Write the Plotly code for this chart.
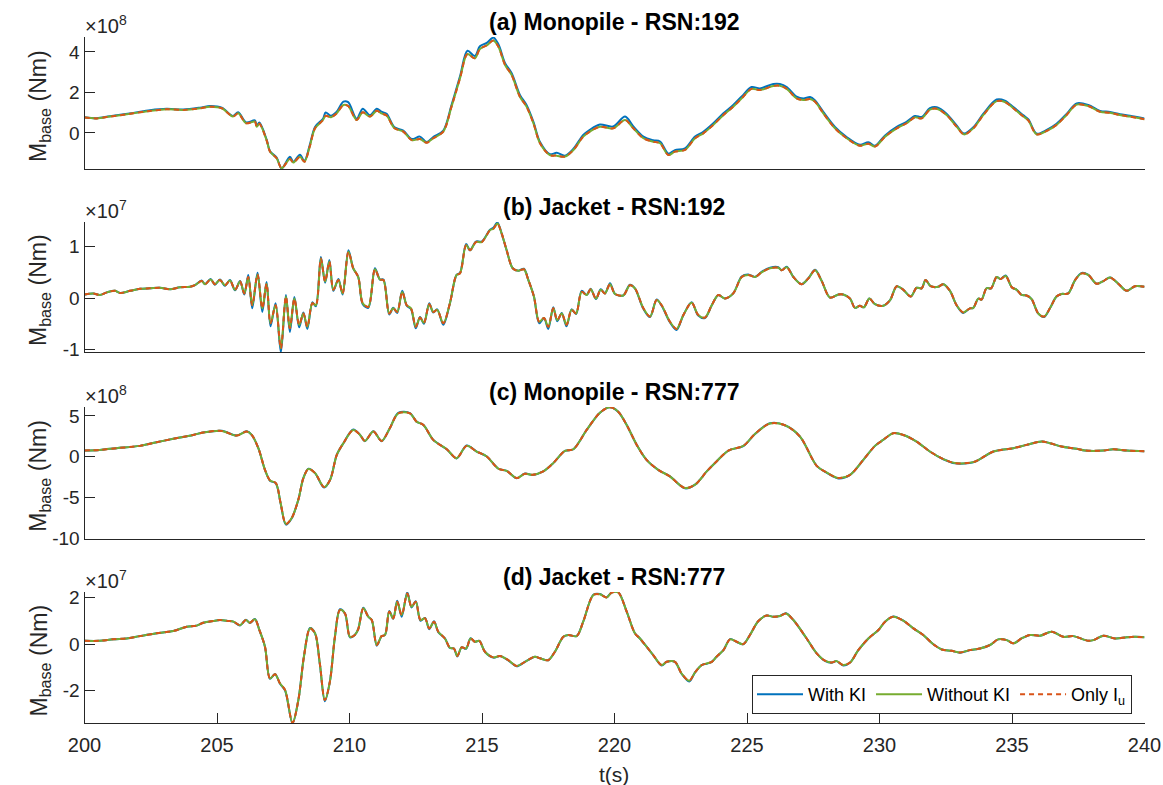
import plotly.graph_objects as go

# ---------------------------------------------------------------------------
# Base overturning moment time histories, 200-240 s.
# Values are in units of the exponent shown above each panel.
# ---------------------------------------------------------------------------

# (a) Monopile - RSN:192   [x 1e8 Nm]
t_mono192 = [200.0, 200.46, 200.96, 201.84, 202.47, 203.1, 203.73, 204.36, 204.74, 205.18,
             205.6, 205.8, 206.1, 206.43, 206.5, 206.6, 206.87, 207.0, 207.25, 207.44,
             207.75, 207.88, 208.13, 208.3, 208.5, 208.7, 209.0, 209.1, 209.3, 209.5,
             209.77, 209.95, 210.27, 210.5, 210.77, 211.03, 211.2, 211.4, 211.7, 212.03,
             212.35, 212.66, 212.91, 213.16, 213.54, 213.85, 214.17, 214.45, 214.73, 214.92,
             215.18, 215.43, 215.62, 215.87, 216.12, 216.43, 216.68, 216.94, 217.19, 217.56,
             217.82, 218.13, 218.45, 218.82, 219.07, 219.45, 219.95, 220.4, 220.71, 221.09,
             221.46, 221.72, 222.03, 222.28, 222.66, 223.04, 223.35, 223.73, 224.11, 224.48,
             224.8, 225.17, 225.49, 225.99, 226.24, 226.5, 226.87, 227.13, 227.38, 227.56,
             227.88, 228.32, 228.76, 229.26, 229.58, 229.83, 230.21, 230.65, 231.02, 231.34,
             231.59, 231.9, 232.16, 232.53, 232.91, 233.19, 233.54, 233.92, 234.42, 234.73,
             235.05, 235.43, 235.62, 235.93, 236.31, 236.68, 237.06, 237.44, 237.88, 238.32,
             238.7, 239.07, 239.45, 240.0]
mono192_with_ki = [0.78, 0.73, 0.83, 0.99, 1.12, 1.19, 1.16, 1.25, 1.33, 1.25,
                   0.84, 1.02, 0.52, 0.62, 0.36, 0.52, -0.32, -0.90, -1.22, -1.76,
                   -1.18, -1.42, -1.08, -1.38, -0.60, 0.30, 0.70, 1.01, 0.85, 1.02,
                   1.55, 1.52, 0.70, 1.20, 0.88, 1.20, 1.05, 0.95, 0.28, 0.12,
                   -0.30, -0.18, -0.45, -0.20, 0.12, 1.38, 2.80, 4.06, 3.80, 4.28,
                   4.45, 4.71, 4.38, 3.45, 2.95, 1.88, 1.38, 0.55, -0.45, -1.05,
                   -0.98, -1.12, -0.78, -0.10, 0.16, 0.42, 0.32, 0.81, 0.32, -0.18,
                   -0.36, -0.42, -1.02, -0.85, -0.76, -0.18, 0.06, 0.48, 0.97, 1.38,
                   1.80, 2.27, 2.20, 2.42, 2.42, 2.27, 1.79, 1.70, 1.78, 1.62,
                   1.04, 0.30, -0.20, -0.58, -0.46, -0.63, -0.12, 0.30, 0.55, 0.84,
                   0.79, 1.22, 1.27, 0.95, 0.37, -0.03, 0.28, 0.95, 1.65, 1.60,
                   1.28, 0.87, 0.67, -0.03, 0.15, 0.45, 0.94, 1.46, 1.38, 1.09,
                   1.04, 0.93, 0.85, 0.71]
# Without KI and Only I_u coincide at this scale
mono192_without_ki = [0.76, 0.72, 0.81, 0.97, 1.09, 1.17, 1.14, 1.22, 1.30, 1.22,
                      0.81, 0.97, 0.48, 0.56, 0.31, 0.45, -0.35, -0.92, -1.25, -1.74,
                      -1.28, -1.46, -1.18, -1.42, -0.67, 0.23, 0.64, 0.85, 0.78, 0.95,
                      1.38, 1.33, 0.64, 1.02, 0.81, 1.10, 0.97, 0.86, 0.23, 0.07,
                      -0.35, -0.30, -0.48, -0.26, 0.07, 1.30, 2.70, 3.90, 3.69, 4.15,
                      4.33, 4.57, 4.26, 3.36, 2.86, 1.79, 1.30, 0.48, -0.51, -1.09,
                      -1.12, -1.17, -0.84, -0.18, 0.07, 0.31, 0.23, 0.64, 0.23, -0.26,
                      -0.43, -0.51, -1.09, -0.92, -0.84, -0.26, -0.02, 0.40, 0.89, 1.30,
                      1.71, 2.18, 2.12, 2.32, 2.33, 2.18, 1.71, 1.63, 1.68, 1.55,
                      0.97, 0.23, -0.26, -0.63, -0.53, -0.67, -0.18, 0.23, 0.48, 0.77,
                      0.72, 1.15, 1.20, 0.89, 0.31, -0.07, 0.23, 0.89, 1.57, 1.53,
                      1.22, 0.81, 0.61, -0.07, 0.10, 0.40, 0.89, 1.40, 1.33, 1.05,
                      1.00, 0.89, 0.81, 0.68]

# (b) Jacket - RSN:192   [x 1e7 Nm]
t_jack192 = [200.0, 200.33, 200.58, 200.84, 201.15, 201.34, 201.72, 202.1, 202.47, 202.85,
             203.23, 203.6, 203.98, 204.17, 204.42, 204.55, 204.76, 204.92, 205.11, 205.3,
             205.49, 205.68, 205.87, 206.03, 206.18, 206.33, 206.53, 206.71, 206.87, 207.02,
             207.21, 207.41, 207.6, 207.75, 207.92, 208.1, 208.26, 208.41, 208.6, 208.73,
             208.92, 209.08, 209.24, 209.39, 209.58, 209.74, 209.96, 210.14, 210.33, 210.5,
             210.71, 210.96, 211.15, 211.28, 211.5, 211.65, 211.8, 211.99, 212.16, 212.32,
             212.5, 212.66, 212.81, 213.01, 213.16, 213.31, 213.54, 213.79, 214.04, 214.17,
             214.4, 214.55, 214.77, 214.99, 215.3, 215.43, 215.58, 215.74, 215.93, 216.16,
             216.37, 216.58, 216.75, 216.96, 217.16, 217.34, 217.5, 217.69, 217.84, 218.01,
             218.19, 218.38, 218.55, 218.76, 218.95, 219.1, 219.3, 219.48, 219.64, 219.83,
             220.02, 220.33, 220.58, 220.77, 221.09, 221.34, 221.59, 221.78, 222.09, 222.34,
             222.6, 222.91, 223.16, 223.41, 223.67, 223.92, 224.17, 224.48, 224.8, 225.05,
             225.3, 225.55, 225.87, 226.18, 226.31, 226.5, 226.75, 227.06, 227.31, 227.57,
             227.82, 228.13, 228.45, 228.63, 228.89, 229.07, 229.26, 229.41, 229.62, 229.83,
             230.14, 230.4, 230.65, 230.9, 231.18, 231.4, 231.59, 231.74, 231.93, 232.22,
             232.41, 232.66, 232.91, 233.16, 233.41, 233.54, 233.73, 233.85, 234.04, 234.21,
             234.42, 234.57, 234.76, 234.99, 235.18, 235.36, 235.55, 235.74, 235.99, 236.21,
             236.43, 236.68, 236.87, 237.12, 237.38, 237.63, 237.88, 238.19, 238.45, 238.7,
             239.01, 239.33, 239.64, 240.0]
jack192_with_ki = [0.07, 0.09, 0.06, 0.11, 0.14, 0.10, 0.14, 0.18, 0.19, 0.20,
                   0.17, 0.21, 0.22, 0.25, 0.34, 0.27, 0.37, 0.26, 0.36, 0.24,
                   0.35, 0.15, 0.33, 0.07, 0.45, -0.20, 0.49, -0.27, 0.31, -0.55,
                   -0.10, -1.06, 0.06, -0.66, 0.02, -0.57, -0.28, -0.60, -0.08, -0.16,
                   0.80, 0.30, 0.74, 0.14, 0.37, 0.07, 0.93, 0.58, 0.41, -0.12,
                   -0.19, 0.58, 0.36, 0.36, -0.32, -0.19, -0.29, 0.14, -0.15, -0.21,
                   -0.59, -0.37, -0.50, -0.10, -0.28, -0.22, -0.52, -0.10, 0.45, 0.49,
                   1.05, 0.93, 1.10, 1.10, 1.33, 1.37, 1.47, 1.26, 0.93, 0.58,
                   0.53, 0.57, 0.35, 0.03, -0.49, -0.39, -0.60, -0.18, -0.45, -0.29,
                   -0.55, -0.22, -0.31, 0.14, 0.06, 0.18, -0.02, 0.17, 0.09, 0.29,
                   0.08, 0.05, 0.26, 0.19, -0.21, -0.37, -0.03, -0.15, -0.47, -0.62,
                   -0.33, -0.08, -0.34, -0.39, -0.14, 0.06, -0.01, 0.09, 0.42, 0.46,
                   0.41, 0.51, 0.59, 0.60, 0.54, 0.61, 0.41, 0.27, 0.38, 0.55,
                   0.33, 0.01, 0.07, 0.07, -0.01, -0.19, -0.15, -0.18, -0.01, -0.12,
                   -0.15, -0.04, 0.23, 0.16, 0.03, 0.20, 0.19, 0.35, 0.23, 0.22,
                   0.27, 0.14, -0.14, -0.29, -0.20, -0.19, -0.01, -0.03, 0.19, 0.19,
                   0.41, 0.37, 0.44, 0.21, 0.16, 0.06, 0.05, -0.02, -0.30, -0.37,
                   -0.20, 0.03, 0.08, 0.09, 0.35, 0.49, 0.45, 0.28, 0.33, 0.40,
                   0.28, 0.14, 0.23, 0.22]
jack192_without_ki = [0.07, 0.09, 0.06, 0.11, 0.14, 0.10, 0.14, 0.18, 0.19, 0.20,
                      0.17, 0.21, 0.22, 0.25, 0.33, 0.27, 0.36, 0.27, 0.35, 0.25,
                      0.34, 0.16, 0.32, 0.09, 0.41, -0.14, 0.46, -0.20, 0.28, -0.49,
                      -0.14, -0.98, 0.03, -0.59, -0.01, -0.52, -0.30, -0.56, -0.10, -0.14,
                      0.77, 0.32, 0.71, 0.16, 0.35, 0.09, 0.90, 0.58, 0.41, -0.10,
                      -0.17, 0.56, 0.36, 0.35, -0.30, -0.20, -0.27, 0.12, -0.14, -0.20,
                      -0.56, -0.38, -0.48, -0.12, -0.27, -0.23, -0.49, -0.10, 0.45, 0.48,
                      1.03, 0.93, 1.09, 1.09, 1.32, 1.35, 1.45, 1.26, 0.93, 0.58,
                      0.53, 0.56, 0.35, 0.03, -0.46, -0.39, -0.56, -0.20, -0.43, -0.30,
                      -0.52, -0.23, -0.30, 0.12, 0.06, 0.17, -0.01, 0.16, 0.09, 0.27,
                      0.08, 0.05, 0.25, 0.19, -0.20, -0.36, -0.04, -0.14, -0.46, -0.60,
                      -0.33, -0.09, -0.33, -0.38, -0.14, 0.06, -0.01, 0.09, 0.41, 0.45,
                      0.41, 0.50, 0.58, 0.59, 0.54, 0.60, 0.41, 0.27, 0.38, 0.54,
                      0.33, 0.01, 0.07, 0.07, -0.01, -0.19, -0.15, -0.18, -0.01, -0.12,
                      -0.15, -0.04, 0.23, 0.16, 0.03, 0.20, 0.19, 0.35, 0.23, 0.22,
                      0.27, 0.14, -0.14, -0.28, -0.20, -0.19, -0.01, -0.03, 0.19, 0.19,
                      0.41, 0.37, 0.43, 0.21, 0.16, 0.06, 0.05, -0.02, -0.30, -0.36,
                      -0.20, 0.03, 0.08, 0.09, 0.35, 0.48, 0.45, 0.28, 0.33, 0.40,
                      0.28, 0.14, 0.23, 0.22]

# (c) Monopile - RSN:777   [x 1e8 Nm]
t_mono777 = [200.0, 200.58, 201.21, 202.09, 202.72, 203.35, 204.1, 204.48, 205.18, 205.74,
             206.12, 206.31, 206.56, 206.81, 207.0, 207.22, 207.4, 207.6, 207.82, 208.07,
             208.26, 208.45, 208.7, 209.04, 209.27, 209.52, 209.77, 210.14, 210.4, 210.58,
             210.9, 211.21, 211.52, 211.84, 212.28, 212.53, 212.79, 213.16, 213.67, 214.04,
             214.42, 214.8, 215.18, 215.62, 215.93, 216.31, 216.62, 216.91, 217.31, 217.69,
             218.13, 218.45, 218.95, 219.45, 219.83, 220.14, 220.46, 220.84, 221.21, 221.65,
             222.09, 222.66, 223.04, 223.48, 223.85, 224.3, 224.86, 225.3, 225.87, 226.43,
             227.0, 227.63, 228.0, 228.45, 228.89, 229.39, 229.83, 230.14, 230.52, 230.9,
             231.4, 231.9, 232.41, 232.85, 233.54, 233.79, 234.3, 235.05, 235.55, 236.12,
             236.43, 236.87, 237.44, 237.75, 238.45, 238.82, 239.33, 240.0]
mono777_with_ki = [0.77, 0.85, 1.06, 1.34, 1.79, 2.20, 2.68, 2.97, 3.19, 2.60,
                   3.12, 2.68, 1.06, -1.59, -2.92, -3.25, -5.70, -8.30, -7.52, -5.24,
                   -2.58, -1.45, -1.99, -3.76, -2.80, 0.24, 1.67, 3.35, 2.68, 1.92,
                   3.13, 1.92, 3.50, 5.38, 5.36, 4.31, 3.90, 2.07, 0.93, -0.20,
                   1.38, 0.65, 0.04, -1.46, -1.71, -2.62, -2.05, -2.22, -1.79, -0.77,
                   0.73, 0.93, 3.29, 5.41, 6.08, 5.53, 3.90, 1.46, -0.37, -1.59,
                   -2.40, -3.86, -3.41, -1.79, -0.57, 0.77, 1.32, 2.80, 4.10, 3.86,
                   2.48, -1.10, -1.93, -2.64, -2.20, -0.37, 1.34, 2.07, 2.90, 2.68,
                   1.87, 0.65, -0.30, -0.80, -0.67, -0.28, 0.65, 1.06, 1.46, 1.87,
                   1.67, 1.26, 0.98, 0.77, 0.77, 0.93, 0.77, 0.69]
mono777_without_ki = [0.77, 0.85, 1.06, 1.34, 1.79, 2.20, 2.68, 2.97, 3.17, 2.60,
                      3.09, 2.68, 1.06, -1.59, -2.89, -3.21, -5.65, -8.21, -7.48, -5.24,
                      -2.60, -1.50, -1.99, -3.70, -2.80, 0.24, 1.67, 3.29, 2.68, 1.95,
                      3.09, 1.95, 3.50, 5.33, 5.33, 4.31, 3.90, 2.07, 0.93, -0.16,
                      1.34, 0.65, 0.04, -1.46, -1.71, -2.60, -2.07, -2.20, -1.79, -0.77,
                      0.73, 0.93, 3.29, 5.41, 6.06, 5.53, 3.90, 1.46, -0.37, -1.59,
                      -2.40, -3.82, -3.41, -1.79, -0.57, 0.77, 1.34, 2.80, 4.08, 3.86,
                      2.48, -1.10, -1.91, -2.60, -2.20, -0.37, 1.34, 2.07, 2.89, 2.68,
                      1.87, 0.65, -0.28, -0.77, -0.65, -0.28, 0.65, 1.06, 1.46, 1.87,
                      1.67, 1.26, 0.98, 0.77, 0.77, 0.93, 0.77, 0.69]

# (d) Jacket - RSN:777   [x 1e7 Nm]
t_jack777 = [200.0, 200.58, 201.09, 201.59, 202.09, 202.72, 203.35, 203.86, 204.23, 204.48,
             204.86, 205.11, 205.43, 205.62, 205.87, 206.09, 206.24, 206.43, 206.6, 206.81,
             207.0, 207.19, 207.38, 207.57, 207.85, 208.07, 208.28, 208.51, 208.7, 208.88,
             209.07, 209.26, 209.45, 209.64, 209.83, 210.02, 210.2, 210.33, 210.52, 210.71,
             210.84, 211.03, 211.21, 211.34, 211.5, 211.65, 211.8, 211.97, 212.18, 212.34,
             212.5, 212.68, 212.85, 213.01, 213.19, 213.35, 213.6, 213.79, 213.94, 214.07,
             214.23, 214.4, 214.57, 214.73, 214.9, 215.11, 215.43, 215.68, 215.99, 216.31,
             216.62, 217.0, 217.19, 217.5, 217.75, 218.07, 218.26, 218.57, 218.82, 219.2,
             219.45, 219.7, 219.89, 220.14, 220.46, 220.77, 220.96, 221.21, 221.46, 221.78,
             221.97, 222.28, 222.53, 222.82, 223.04, 223.29, 223.48, 223.67, 223.85, 224.11,
             224.36, 224.61, 224.86, 225.11, 225.43, 225.74, 225.99, 226.24, 226.47, 226.75,
             227.25, 227.63, 227.94, 228.19, 228.38, 228.63, 228.89, 229.2, 229.58, 229.96,
             230.21, 230.52, 230.9, 231.28, 231.65, 232.03, 232.35, 232.72, 233.04, 233.41,
             233.79, 234.17, 234.48, 234.8, 235.05, 235.36, 235.68, 236.06, 236.5, 236.94,
             237.31, 237.88, 238.07, 238.45, 238.89, 239.33, 239.64, 240.0]
jack777_with_ki = [0.14, 0.14, 0.21, 0.24, 0.34, 0.46, 0.56, 0.74, 0.79, 0.91,
                   0.99, 1.03, 0.99, 0.96, 0.80, 1.04, 0.90, 1.07, 0.60, -0.11,
                   -1.49, -1.28, -1.70, -1.99, -3.40, -2.40, -0.54, 0.69, 0.46, -0.85,
                   -2.45, -1.61, 0.31, 1.49, 1.31, 0.29, 0.39, 0.64, 1.56, 1.17,
                   1.03, -0.07, 0.34, 0.39, 1.42, 1.08, 1.85, 1.17, 2.22, 1.57,
                   1.83, 1.00, 1.12, 0.64, 0.98, 0.51, 0.24, -0.17, -0.19, -0.53,
                   -0.14, -0.20, 0.25, 0.10, 0.14, -0.33, -0.58, -0.51, -0.70, -0.95,
                   -0.76, -0.54, -0.61, -0.69, -0.33, 0.31, 0.39, 0.34, 0.96, 2.11,
                   2.14, 2.00, 2.21, 2.22, 1.39, 0.46, 0.24, -0.11, -0.47, -0.92,
                   -0.76, -0.76, -1.27, -1.60, -1.21, -0.90, -0.84, -0.76, -0.54, -0.26,
                   0.21, 0.09, -0.01, 0.39, 0.99, 1.22, 1.17, 1.20, 1.32, 1.03,
                   0.24, -0.40, -0.72, -0.80, -0.73, -0.92, -0.79, -0.26, 0.24, 0.60,
                   0.96, 1.18, 1.00, 0.67, 0.39, -0.01, -0.23, -0.29, -0.37, -0.26,
                   -0.19, -0.04, 0.20, 0.17, 0.03, 0.24, 0.39, 0.36, 0.53, 0.31,
                   0.34, 0.14, 0.17, 0.36, 0.24, 0.29, 0.31, 0.29]
jack777_without_ki = [0.14, 0.14, 0.21, 0.24, 0.34, 0.46, 0.56, 0.74, 0.79, 0.91,
                      0.99, 1.03, 0.99, 0.96, 0.81, 1.03, 0.91, 1.06, 0.60, -0.11,
                      -1.47, -1.29, -1.69, -1.97, -3.37, -2.40, -0.54, 0.67, 0.46, -0.83,
                      -2.40, -1.61, 0.31, 1.46, 1.31, 0.31, 0.39, 0.64, 1.53, 1.17,
                      1.03, -0.04, 0.34, 0.39, 1.39, 1.10, 1.81, 1.24, 2.17, 1.60,
                      1.81, 1.03, 1.10, 0.67, 0.96, 0.53, 0.24, -0.16, -0.19, -0.51,
                      -0.14, -0.19, 0.24, 0.10, 0.14, -0.33, -0.57, -0.51, -0.69, -0.94,
                      -0.76, -0.54, -0.61, -0.69, -0.33, 0.31, 0.39, 0.34, 0.96, 2.10,
                      2.13, 2.00, 2.20, 2.21, 1.39, 0.46, 0.24, -0.11, -0.47, -0.90,
                      -0.76, -0.76, -1.26, -1.57, -1.21, -0.90, -0.83, -0.76, -0.54, -0.26,
                      0.20, 0.10, 0.00, 0.39, 0.99, 1.22, 1.17, 1.20, 1.31, 1.03,
                      0.24, -0.40, -0.71, -0.79, -0.73, -0.90, -0.79, -0.26, 0.24, 0.60,
                      0.96, 1.17, 1.00, 0.67, 0.39, -0.01, -0.23, -0.29, -0.36, -0.26,
                      -0.19, -0.04, 0.20, 0.17, 0.03, 0.24, 0.39, 0.36, 0.53, 0.31,
                      0.34, 0.14, 0.17, 0.36, 0.24, 0.29, 0.31, 0.29]

panel_titles = ["(a) Monopile - RSN:192", "(b) Jacket - RSN:192",
                "(c) Monopile - RSN:777", "(d) Jacket - RSN:777"]
panel_exponents = [8, 7, 8, 7]
series_names = ["With KI", "Without KI", "Only I<sub>u</sub>"]

x_ticks = [200, 205, 210, 215, 220, 225, 230, 235, 240]
y_ticks = [[0, 2, 4], [-1, 0, 1], [-10, -5, 0, 5], [-2, 0, 2]]
y_ranges = [[-1.78, 4.74], [-1.05, 1.48], [-10.0, 6.1], [-3.38, 2.23]]

# ---------------------------------------------------------------------------
W, H = 1163, 785
FONT = "Liberation Sans, Arial, Helvetica, sans-serif"
INK = "#262626"
BLUE, ORANGE, GREEN = "#0072BD", "#D95319", "#77AC30"

X_LEFT, X_RIGHT = 84.5, 1144.5
panel_px = [(37, 169), (222, 352), (407, 538.5), (592, 723)]   # (top, bottom) in px

def px_x(x):
    return x / W

def px_y(y):
    return 1 - y / H

panel_data = [
    (t_mono192, mono192_with_ki, mono192_without_ki, mono192_without_ki),
    (t_jack192, jack192_with_ki, jack192_without_ki, jack192_without_ki),
    (t_mono777, mono777_with_ki, mono777_without_ki, mono777_without_ki),
    (t_jack777, jack777_with_ki, jack777_without_ki, jack777_without_ki),
]

fig = go.Figure()
styles = [dict(color=BLUE, width=2),
          dict(color=GREEN, width=2),
          dict(color=ORANGE, width=2, dash="5px,4px")]

for i, (t, s_with, s_without, s_iu) in enumerate(panel_data):
    ax = "" if i == 0 else str(i + 1)
    for k, ys in enumerate((s_with, s_without, s_iu)):
        fig.add_trace(go.Scatter(
            x=t, y=ys, mode="lines", name=series_names[k],
            line=dict(shape="spline", smoothing=0.9, **styles[k]),
            xaxis="x" + ax, yaxis="y" + ax,
            legendgroup=series_names[k], showlegend=(i == 3),
            hoverinfo="skip",
        ))

layout = dict(
    width=W, height=H,
    margin=dict(l=0, r=0, t=0, b=0, pad=0, autoexpand=False),
    paper_bgcolor="white", plot_bgcolor="white",
    font=dict(family=FONT, color=INK),
    showlegend=True,
    legend=dict(orientation="h", x=px_x(1132), xanchor="right",
                y=px_y(675), yanchor="top",
                bgcolor="white", bordercolor=INK, borderwidth=1,
                font=dict(size=18, family=FONT, color="black"),
                tracegroupgap=0, itemwidth=46),
)

annotations = []
for i, (top, bot) in enumerate(panel_px):
    ax = "" if i == 0 else str(i + 1)
    last = (i == 3)
    layout["xaxis" + ax] = dict(
        domain=[px_x(X_LEFT), px_x(X_RIGHT)], range=[200, 240],
        anchor="y" + ax, showgrid=False, zeroline=False, automargin=False,
        showline=True, linecolor=INK, linewidth=1,
        ticks="inside" if last else "", ticklen=10, tickcolor=INK,
        tickvals=x_ticks if last else [], showticklabels=last,
        ticklabelstandoff=4,
        tickfont=dict(size=20, family=FONT, color=INK),
    )
    layout["yaxis" + ax] = dict(
        domain=[px_y(bot), px_y(top)], range=y_ranges[i],
        anchor="x" + ax, showgrid=False, zeroline=False, automargin=False,
        showline=True, linecolor=INK, linewidth=1,
        ticks="inside", ticklen=10, tickcolor=INK,
        tickvals=y_ticks[i], ticktext=[str(v) for v in y_ticks[i]],
        tickfont=dict(size=19, family=FONT, color=INK),
    )
    # panel title
    annotations.append(dict(
        text="<b>%s</b>" % panel_titles[i], x=px_x(614), y=px_y(top - 15),
        xref="paper", yref="paper", xanchor="center", yanchor="middle",
        showarrow=False, font=dict(size=23, family=FONT, color="black")))
    # exponent label
    annotations.append(dict(
        text="\u00d710<sup>%d</sup>" % panel_exponents[i], x=px_x(83), y=px_y(top + 2),
        xref="paper", yref="paper", xanchor="left", yanchor="bottom",
        showarrow=False, font=dict(size=20, family=FONT, color=INK)))
    # y-axis label
    annotations.append(dict(
        text="M<sub>base</sub> (Nm)", x=px_x(40), y=px_y((top + bot) / 2 + 3),
        xref="paper", yref="paper", xanchor="center", yanchor="middle",
        textangle=-90, showarrow=False,
        font=dict(size=23, family=FONT, color=INK)))

annotations.append(dict(
    text="t(s)", x=px_x(614), y=px_y(774), xref="paper", yref="paper",
    xanchor="center", yanchor="middle", showarrow=False,
    font=dict(size=21, family=FONT, color=INK)))

layout["annotations"] = annotations
fig.update_layout(**layout)

fig.write_html("out.html")
